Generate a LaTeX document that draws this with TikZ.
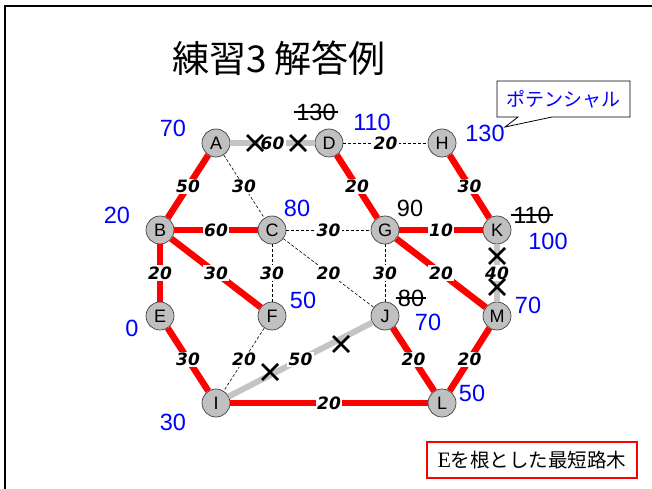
\documentclass[tikz,border=0pt]{standalone}
\usepackage{fontspec}
\setmainfont{Liberation Sans}
\newfontfamily\cjk{Noto Sans CJK JP}
\newfontfamily\serifE{Liberation Serif}
\newfontfamily\wfont{DejaVu Sans}
\definecolor{nodegray}{RGB}{192,192,192}
\definecolor{linegray}{RGB}{196,196,196}
\definecolor{pblue}{RGB}{0,0,255}
\definecolor{pred}{RGB}{255,0,0}
\tikzset{
  vtx/.style={circle, draw=black!75, line width=0.7pt, fill=nodegray, minimum size=28pt, inner sep=0pt, font=\fontsize{18}{18}\selectfont},
  tree/.style={draw=pred, line width=6.5pt},
  cut/.style={draw=linegray, line width=6pt},
  thin/.style={draw=black, line width=0.6pt, dash pattern=on 3pt off 2pt},
  wt/.style={fill=white, inner sep=1.2pt, font=\wfont\bfseries\itshape\fontsize{17}{17}\selectfont},
  pot/.style={text=pblue, font=\fontsize{23.5}{23.5}\selectfont, inner sep=0pt},
  old/.style={text=black, font=\fontsize{23.5}{23.5}\selectfont, inner sep=0pt},
  xmark/.style={draw=black, line width=2.6pt}
}
\newcommand{\crossat}[2]{\draw[xmark] (#1-8,#2-8) -- (#1+8,#2+8) (#1-8,#2+8) -- (#1+8,#2-8);}
\begin{document}
\begin{tikzpicture}[x=1pt, y=-1pt]
\useasboundingbox (0,0) rectangle (652,489);
% frame
\draw[line width=2.4pt] (5,489) -- (5,6) -- (652,6);
% title
\node (title) at (279,58) {\cjk\fontsize{37}{37}\selectfont 練習3 解答例};
% vertices
\node[vtx] (A) at (216,143) {A};
\node[vtx] (D) at (329,143) {D};
\node[vtx] (H) at (442,143) {H};
\node[vtx] (B) at (160,230) {B};
\node[vtx] (C) at (272,230) {C};
\node[vtx] (G) at (385,230) {G};
\node[vtx] (K) at (497,230) {K};
\node[vtx] (E) at (160,316) {E};
\node[vtx] (F) at (272,316) {F};
\node[vtx] (J) at (385,316) {J};
\node[vtx] (M) at (497,316) {M};
\node[vtx] (I) at (216,403) {I};
\node[vtx] (L) at (442,403) {L};
% thin dashed edges
\draw[thin] (A) -- node[wt] {30} (C);
\draw[thin] (C) -- node[wt] {30} (G);
\draw[thin] (C) -- node[wt] {30} (F);
\draw[thin] (C) -- node[wt] {20} (J);
\draw[thin] (G) -- node[wt] {30} (J);
\draw[thin] (D) -- node[wt] {20} (H);
\draw[thin] (F) -- node[wt] {20} (I);
% removed edges
\draw[cut] (A) -- node[wt] {60} (D);
\draw[cut] (I) -- node[wt] {50} (J);
\draw[cut] (K) -- node[wt] {40} (M);
% tree edges
\draw[tree] (A) -- node[wt] {50} (B);
\draw[tree] (B) -- node[wt] {60} (C);
\draw[tree] (B) -- node[wt] {20} (E);
\draw[tree] (B) -- node[wt] {30} (F);
\draw[tree] (E) -- node[wt] {30} (I);
\draw[tree] (I) -- node[wt] {20} (L);
\draw[tree] (J) -- node[wt] {20} (L);
\draw[tree] (M) -- node[wt] {20} (L);
\draw[tree] (G) -- node[wt] {20} (M);
\draw[tree] (G) -- node[wt] {10} (K);
\draw[tree] (H) -- node[wt] {30} (K);
\draw[tree] (D) -- node[wt] {20} (G);
% crosses
\crossat{255}{143}
\crossat{298}{143}
\crossat{270}{372}
\crossat{341}{344}
\crossat{497}{256}
\crossat{497}{287}
% potentials
\node[pot] (pA) at (173,128) {70};
\node[pot] (pD) at (372,122) {110};
\node[pot] (pH) at (485,133) {130};
\node[pot] (pB) at (117,215) {20};
\node[pot] (pC) at (297,208) {80};
\node[old] (pG) at (410,208) {90};
\node[pot] (pK) at (548,241) {100};
\node[pot] (pE) at (132,328) {0};
\node[pot] (pF) at (303,300) {50};
\node[pot] (pJ) at (428,322) {70};
\node[pot] (pM) at (528,305) {70};
\node[pot] (pI) at (173,422) {30};
\node[pot] (pL) at (472,393) {50};
% struck old values
\node[old] (oD) at (316,112) {130};
\draw[line width=1.2pt] ([xshift=-2pt]oD.west) -- ([xshift=2pt]oD.east);
\node[old] (oK) at (532,215) {110};
\draw[line width=1.2pt] ([xshift=-2pt]oK.west) -- ([xshift=2pt]oK.east);
\node[old] (oJ) at (411,298) {80};
\draw[line width=1.2pt] ([xshift=-2pt]oJ.west) -- ([xshift=2pt]oJ.east);
% callout
\draw[fill=white, line width=0.8pt] (497,81) -- (630,81) -- (630,117) -- (552,117) -- (505,127) -- (518,117) -- (497,117) -- cycle;
\node[text=pblue] (call) at (563,99) {\cjk\fontsize{19}{19}\selectfont ポテンシャル};
% bottom box
\node[draw=pred, line width=1.8pt, fill=white, minimum width=210pt, minimum height=36pt, inner sep=0pt] (note) at (532,460)
  {{\serifE\fontsize{22}{22}\selectfont E}{\cjk\fontsize{19.5}{19.5}\selectfont を根とした最短路木}};
\end{tikzpicture}
\end{document}
